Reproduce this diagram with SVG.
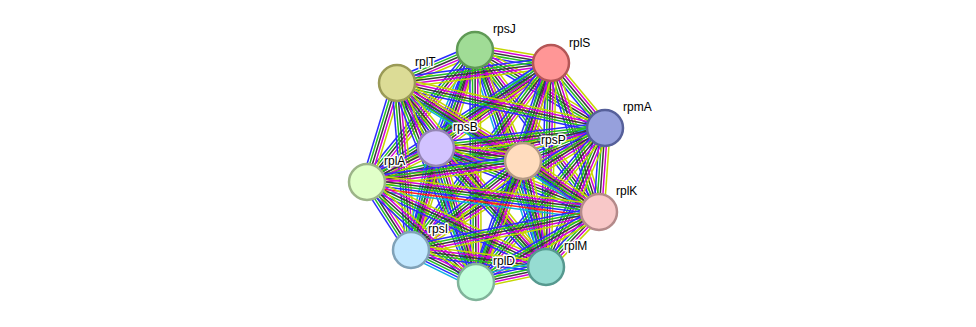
<svg xmlns="http://www.w3.org/2000/svg" xmlns:xlink="http://www.w3.org/1999/xlink" width="976" height="327" viewBox="0 0 976 327">
<style>
line{vector-effect:non-scaling-stroke;stroke-width:1.5;fill:none}
.y{stroke:#c4d600}.m{stroke:#d400d4}.k{stroke:#3a3a3a}.g{stroke:#22c022}.b{stroke:#2a2aff}.c{stroke:#10b0e0}.r{stroke:#ff2020}
.node circle{stroke-width:2.5}
text{font-family:"Liberation Sans",Arial,sans-serif;font-size:12px;fill:#000;stroke:#fff;stroke-width:3;paint-order:stroke;stroke-linejoin:round}
</style>
<defs>
<g id="b6">
<line class="y" x2="1" y1="-6.25" y2="-6.25"/>
<line class="m" x2="1" y1="-3.75" y2="-3.75"/>
<line class="k" x2="1" y1="-1.25" y2="-1.25"/>
<line class="g" x2="1" y1="1.25" y2="1.25"/>
<line class="b" x2="1" y1="3.75" y2="3.75"/>
<line class="c" x2="1" y1="6.25" y2="6.25"/>
</g>
<g id="b5">
<line class="y" x2="1" y1="-5.2" y2="-5.2"/>
<line class="m" x2="1" y1="-2.6" y2="-2.6"/>
<line class="k" x2="1" y1="0" y2="0"/>
<line class="g" x2="1" y1="2.6" y2="2.6"/>
<line class="b" x2="1" y1="5.2" y2="5.2"/>
</g>
<g id="b4">
<line class="y" x2="1" y1="-3.9" y2="-3.9"/>
<line class="m" x2="1" y1="-1.3" y2="-1.3"/>
<line class="k" x2="1" y1="1.3" y2="1.3"/>
<line class="g" x2="1" y1="3.9" y2="3.9"/>
</g>
<g id="b7">
<line class="y" x2="1" y1="-7.5" y2="-7.5"/>
<line class="m" x2="1" y1="-5" y2="-5"/>
<line class="k" x2="1" y1="-2.5" y2="-2.5"/>
<line class="g" x2="1" y1="0" y2="0"/>
<line class="b" x2="1" y1="2.5" y2="2.5"/>
<line class="r" x2="1" y1="5" y2="5"/>
<line class="c" x2="1" y1="7.5" y2="7.5"/>
</g>
</defs>
<rect width="976" height="327" fill="#fff"/>
<g id="edges">
<use href="#b5" transform="matrix(76,13,-0.169,0.986,475,50)"/>
<use href="#b5" transform="matrix(-78,33,-0.390,-0.921,475,50)"/>
<use href="#b5" transform="matrix(130,78,-0.515,0.858,475,50)"/>
<use href="#b6" transform="matrix(-39,98,-0.929,-0.370,475,50)"/>
<use href="#b5" transform="matrix(48,111,-0.918,0.397,475,50)"/>
<use href="#b5" transform="matrix(-108,132,-0.774,-0.633,475,50)"/>
<use href="#b5" transform="matrix(124,162,-0.794,0.608,475,50)"/>
<use href="#b5" transform="matrix(-64,200,-0.952,-0.305,475,50)"/>
<use href="#b6" transform="matrix(71,217,-0.950,0.311,475,50)"/>
<use href="#b5" transform="matrix(1,232,-1,0.004,475,50)"/>
<use href="#b5" transform="matrix(-154,20,-0.129,-0.992,551,63)"/>
<use href="#b5" transform="matrix(54,65,-0.769,0.639,551,63)"/>
<use href="#b6" transform="matrix(-115,85,-0.594,-0.804,551,63)"/>
<use href="#b5" transform="matrix(-28,98,-0.962,-0.275,551,63)"/>
<use href="#b5" transform="matrix(-184,119,-0.543,-0.840,551,63)"/>
<use href="#b5" transform="matrix(48,149,-0.952,0.307,551,63)"/>
<use href="#b5" transform="matrix(-140,187,-0.801,-0.599,551,63)"/>
<use href="#b5" transform="matrix(-5,204,-0.999,-0.024,551,63)"/>
<use href="#b5" transform="matrix(-75,219,-0.946,-0.324,551,63)"/>
<use href="#b5" transform="matrix(208,45,-0.211,0.977,397,83)"/>
<use href="#b5" transform="matrix(39,65,-0.858,0.515,397,83)"/>
<use href="#b6" transform="matrix(126,78,-0.526,0.850,397,83)"/>
<use href="#b5" transform="matrix(-30,99,-0.957,-0.290,397,83)"/>
<use href="#b4" transform="matrix(202,129,-0.538,0.843,397,83)"/>
<use href="#b5" transform="matrix(14,167,-0.996,0.084,397,83)"/>
<use href="#b5" transform="matrix(149,184,-0.777,0.629,397,83)"/>
<use href="#b5" transform="matrix(79,199,-0.929,0.369,397,83)"/>
<use href="#b5" transform="matrix(-169,20,-0.118,-0.993,605,128)"/>
<use href="#b6" transform="matrix(-82,33,-0.373,-0.928,605,128)"/>
<use href="#b4" transform="matrix(-238,54,-0.221,-0.975,605,128)"/>
<use href="#b5" transform="matrix(-6,84,-0.997,-0.071,605,128)"/>
<use href="#b5" transform="matrix(-194,122,-0.532,-0.846,605,128)"/>
<use href="#b5" transform="matrix(-59,139,-0.921,-0.391,605,128)"/>
<use href="#b5" transform="matrix(-129,154,-0.767,-0.642,605,128)"/>
<use href="#b6" transform="matrix(87,13,-0.148,0.989,436,148)"/>
<use href="#b5" transform="matrix(-69,34,-0.442,-0.897,436,148)"/>
<use href="#b5" transform="matrix(163,64,-0.366,0.931,436,148)"/>
<use href="#b6" transform="matrix(-25,102,-0.971,-0.238,436,148)"/>
<use href="#b5" transform="matrix(110,119,-0.734,0.679,436,148)"/>
<use href="#b6" transform="matrix(40,134,-0.958,0.286,436,148)"/>
<use href="#b5" transform="matrix(-156,21,-0.133,-0.991,523,161)"/>
<use href="#b6" transform="matrix(76,51,-0.557,0.831,523,161)"/>
<use href="#b5" transform="matrix(-112,89,-0.622,-0.783,523,161)"/>
<use href="#b6" transform="matrix(23,106,-0.977,0.212,523,161)"/>
<use href="#b5" transform="matrix(-47,121,-0.932,-0.362,523,161)"/>
<use href="#b7" transform="matrix(232,30,-0.128,0.992,367,182)"/>
<use href="#b5" transform="matrix(44,68,-0.840,0.543,367,182)"/>
<use href="#b5" transform="matrix(179,85,-0.429,0.903,367,182)"/>
<use href="#b5" transform="matrix(109,100,-0.676,0.737,367,182)"/>
<use href="#b5" transform="matrix(-188,38,-0.198,-0.980,599,212)"/>
<use href="#b5" transform="matrix(-53,55,-0.720,-0.694,599,212)"/>
<use href="#b5" transform="matrix(-123,70,-0.495,-0.869,599,212)"/>
<use href="#b5" transform="matrix(135,17,-0.125,0.992,411,250)"/>
<use href="#b6" transform="matrix(65,32,-0.441,0.897,411,250)"/>
<use href="#b6" transform="matrix(-70,15,-0.209,-0.978,546,267)"/>
</g>
<g id="rpsJ" class="node"><circle cx="475" cy="50" r="18" fill="#a0dc96" stroke="#5f9a55"/><text x="493" y="33">rpsJ</text></g>
<g id="rplS" class="node"><circle cx="551" cy="63" r="18" fill="#ff9696" stroke="#b45656"/><text x="569" y="47">rplS</text></g>
<g id="rplT" class="node"><circle cx="397" cy="83" r="18" fill="#dcdc96" stroke="#9a9a56"/><text x="415" y="66">rplT</text></g>
<g id="rpmA" class="node"><circle cx="605" cy="128" r="18" fill="#96a0dc" stroke="#56609a"/><text x="623" y="111">rpmA</text></g>
<g id="rpsB" class="node"><circle cx="436" cy="148" r="18" fill="#d2c3ff" stroke="#9486b4"/><text x="453" y="131">rpsB</text></g>
<g id="rpsP" class="node"><circle cx="523" cy="161" r="18" fill="#ffdcbe" stroke="#b49a84"/><text x="541" y="144">rpsP</text></g>
<g id="rplA" class="node"><circle cx="367" cy="182" r="18" fill="#e0ffc8" stroke="#9cb488"/><text x="384" y="165">rplA</text></g>
<g id="rplK" class="node"><circle cx="599" cy="212" r="18" fill="#f8c8c8" stroke="#b48a8a"/><text x="616" y="195">rplK</text></g>
<g id="rpsI" class="node"><circle cx="411" cy="250" r="18" fill="#c3e8ff" stroke="#80a2b8"/><text x="428" y="233">rpsI</text></g>
<g id="rplM" class="node"><circle cx="546" cy="267" r="18" fill="#96dcd2" stroke="#56998f"/><text x="564" y="250">rplM</text></g>
<g id="rplD" class="node"><circle cx="476" cy="282" r="18" fill="#c3ffdc" stroke="#80b49a"/><text x="493" y="265">rplD</text></g>
</svg>
